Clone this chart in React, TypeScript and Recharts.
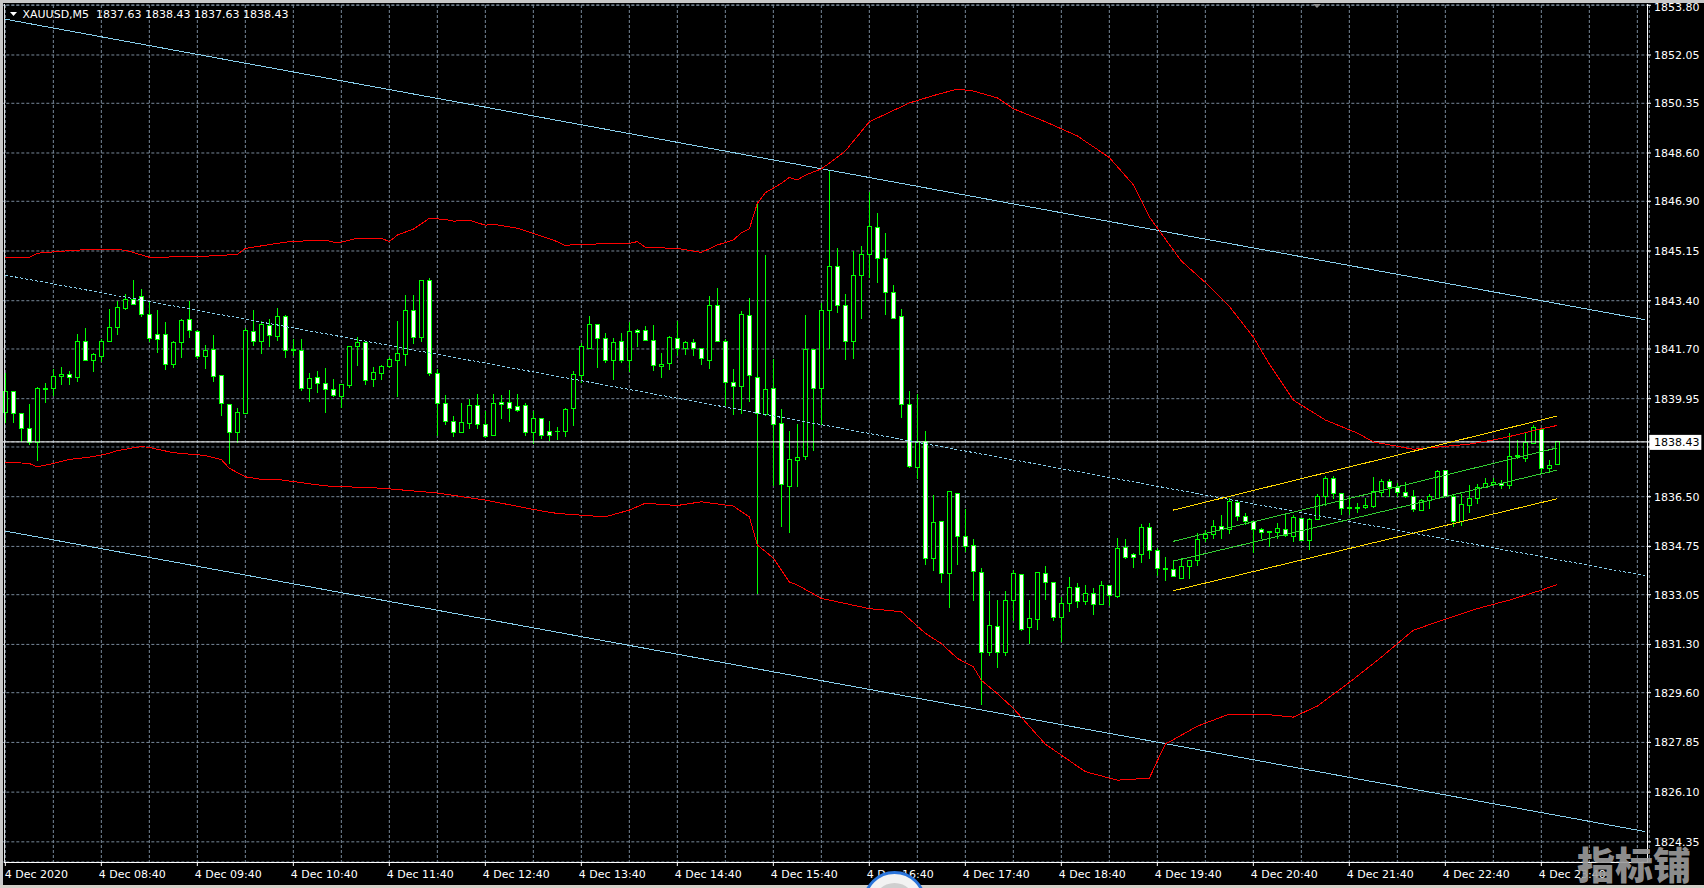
import React from 'react';
import { ComposedChart, Bar, Line, XAxis, YAxis, CartesianGrid, ReferenceLine } from 'recharts';

const symbolTitle = 'XAUUSD,M5';
const lastBarOHLC = ['1837.63', '1838.43', '1837.63', '1838.43'];
const lastPrice = 1838.43;
const hiddenTick = 1838.25;

const opens = [
  1839.46, 1840.20, 1839.42, 1838.89, 1838.40, 1840.29, 1840.30, 1840.72, 1840.80, 1840.68,
  1841.96, 1841.31, 1841.45, 1841.95, 1842.44, 1843.14, 1843.44, 1843.54, 1842.91, 1842.20,
  1842.20, 1841.17, 1841.92, 1842.73, 1842.31, 1841.43, 1841.68, 1840.76, 1839.76, 1838.75,
  1839.43, 1842.31, 1841.95, 1842.52, 1842.13, 1842.84, 1841.68, 1841.65, 1840.30, 1840.69,
  1840.48, 1840.27, 1840.04, 1840.43, 1841.78, 1841.92, 1840.61, 1840.85, 1841.07, 1841.31,
  1841.52, 1843.05, 1842.09, 1844.11, 1840.83, 1839.77, 1839.14, 1838.75, 1839.07, 1839.70,
  1839.03, 1838.64, 1839.81, 1839.81, 1839.67, 1839.72, 1838.75, 1839.25, 1838.79, 1838.78,
  1838.79, 1839.60, 1840.78, 1841.73, 1842.56, 1842.06, 1841.31, 1841.95, 1841.29, 1842.34,
  1842.34, 1841.99, 1841.08, 1841.18, 1842.06, 1841.71, 1841.92, 1841.71, 1841.31, 1843.22,
  1841.98, 1840.51, 1840.37, 1842.87, 1840.71, 1839.40, 1840.30, 1839.07, 1836.87, 1837.79,
  1837.91, 1841.69, 1840.30, 1843.07, 1844.60, 1843.22, 1841.95, 1844.27, 1845.02, 1845.97,
  1844.88, 1843.68, 1842.84, 1839.76, 1837.52, 1838.44, 1834.34, 1835.62, 1833.79, 1836.61,
  1835.09, 1834.77, 1833.82, 1831.03, 1831.92, 1831.03, 1832.86, 1833.75, 1831.88, 1832.16,
  1833.79, 1833.47, 1832.26, 1832.73, 1833.30, 1832.80, 1833.08, 1832.70, 1833.37, 1832.98,
  1834.70, 1834.46, 1834.46, 1835.41, 1834.60, 1833.97, 1833.93, 1833.61, 1834.03, 1834.25,
  1835.02, 1835.16, 1835.44, 1835.35, 1836.29, 1835.80, 1835.62, 1835.34, 1835.23, 1835.23,
  1835.33, 1835.11, 1835.75, 1834.95, 1835.68, 1836.50, 1837.15, 1836.61, 1836.09, 1836.09,
  1836.11, 1836.14, 1836.64, 1837.03, 1836.82, 1836.64, 1836.50, 1836.03, 1836.36, 1836.43,
  1837.42, 1836.50, 1835.64, 1836.19, 1836.45, 1836.82, 1836.92, 1836.97, 1836.88, 1837.91,
  1837.86, 1838.38, 1838.85, 1837.49, 1837.63,
];

const highs = [
  1840.84, 1840.22, 1839.46, 1839.75, 1840.37, 1840.51, 1840.98, 1841.05, 1840.91, 1842.22,
  1842.43, 1841.57, 1842.04, 1843.10, 1843.40, 1843.62, 1844.12, 1843.80, 1843.39, 1843.07,
  1842.65, 1841.98, 1842.74, 1843.40, 1842.37, 1841.83, 1842.18, 1840.76, 1839.76, 1839.64,
  1842.45, 1843.06, 1842.67, 1842.77, 1843.15, 1842.88, 1842.06, 1842.06, 1840.84, 1840.91,
  1841.02, 1840.65, 1840.44, 1841.78, 1842.13, 1841.92, 1841.08, 1841.12, 1841.43, 1842.67,
  1843.59, 1843.59, 1844.11, 1844.21, 1841.01, 1840.07, 1839.33, 1839.79, 1839.94, 1840.10,
  1839.50, 1840.10, 1840.07, 1840.24, 1840.10, 1839.81, 1839.50, 1839.28, 1839.15, 1838.94,
  1839.61, 1840.91, 1841.92, 1842.86, 1842.56, 1842.25, 1842.10, 1842.25, 1842.66, 1842.42,
  1842.51, 1842.53, 1841.55, 1842.16, 1842.70, 1841.99, 1842.04, 1841.71, 1843.57, 1843.84,
  1842.04, 1840.98, 1843.05, 1843.48, 1846.79, 1845.00, 1841.36, 1839.57, 1838.81, 1839.05,
  1842.88, 1841.69, 1843.31, 1848.00, 1845.24, 1843.62, 1845.15, 1845.33, 1847.23, 1846.48,
  1845.77, 1843.94, 1843.10, 1840.21, 1840.11, 1838.80, 1836.55, 1835.62, 1836.68, 1836.61,
  1836.08, 1835.00, 1834.00, 1833.17, 1832.88, 1833.17, 1833.91, 1833.75, 1832.88, 1833.82,
  1834.05, 1833.47, 1832.98, 1833.69, 1833.47, 1833.38, 1833.30, 1833.54, 1833.37, 1835.06,
  1835.00, 1834.53, 1835.55, 1835.56, 1834.69, 1834.39, 1834.26, 1834.35, 1834.25, 1835.23,
  1835.33, 1835.68, 1835.84, 1836.46, 1836.35, 1835.94, 1835.62, 1835.41, 1835.29, 1835.58,
  1835.84, 1835.84, 1835.76, 1835.76, 1836.58, 1837.23, 1837.23, 1836.61, 1836.52, 1836.29,
  1836.46, 1837.20, 1837.11, 1837.11, 1836.99, 1837.02, 1836.73, 1836.41, 1836.58, 1837.44,
  1837.42, 1836.58, 1836.58, 1836.90, 1836.93, 1837.17, 1837.17, 1837.09, 1838.75, 1838.48,
  1838.75, 1839.01, 1838.93, 1837.78, 1838.43,
];

const lows = [
  1839.11, 1839.11, 1838.42, 1838.33, 1837.76, 1839.79, 1840.04, 1840.45, 1840.45, 1840.54,
  1841.28, 1840.89, 1841.24, 1841.95, 1842.18, 1843.07, 1843.25, 1842.84, 1841.95, 1841.55,
  1840.96, 1841.03, 1841.38, 1842.09, 1841.36, 1840.98, 1840.54, 1839.34, 1837.64, 1838.40,
  1839.40, 1841.80, 1841.51, 1841.78, 1841.98, 1841.37, 1841.45, 1840.22, 1839.83, 1840.14,
  1839.45, 1840.02, 1839.63, 1840.33, 1841.10, 1840.43, 1840.36, 1840.61, 1841.03, 1840.01,
  1841.10, 1841.87, 1841.95, 1840.75, 1838.64, 1839.02, 1838.60, 1838.75, 1838.87, 1838.87,
  1838.57, 1838.64, 1839.22, 1839.13, 1839.48, 1838.64, 1838.37, 1838.52, 1838.46, 1838.49,
  1838.60, 1838.99, 1840.51, 1841.71, 1841.03, 1841.22, 1840.61, 1841.22, 1840.89, 1841.77,
  1841.98, 1840.92, 1840.68, 1840.95, 1841.45, 1841.49, 1841.45, 1841.12, 1840.98, 1841.95,
  1839.69, 1839.36, 1839.40, 1839.83, 1833.06, 1839.34, 1836.87, 1835.43, 1835.23, 1836.84,
  1837.79, 1838.11, 1839.01, 1841.71, 1842.96, 1841.31, 1841.36, 1842.74, 1844.19, 1844.03,
  1842.90, 1842.78, 1839.27, 1837.52, 1837.11, 1834.08, 1833.88, 1833.45, 1832.57, 1834.08,
  1834.55, 1832.83, 1829.15, 1830.89, 1830.46, 1830.89, 1832.13, 1831.76, 1831.33, 1831.80,
  1832.86, 1832.12, 1831.38, 1832.44, 1832.58, 1832.69, 1832.33, 1832.70, 1832.65, 1832.94,
  1834.31, 1833.99, 1834.15, 1834.32, 1833.71, 1833.53, 1833.68, 1833.61, 1833.61, 1834.06,
  1834.90, 1835.02, 1835.00, 1835.20, 1835.64, 1835.49, 1834.53, 1835.00, 1834.74, 1835.00,
  1835.09, 1834.90, 1834.95, 1834.64, 1835.68, 1836.19, 1836.41, 1835.85, 1835.85, 1835.94,
  1836.08, 1836.11, 1836.50, 1836.50, 1836.50, 1836.46, 1835.96, 1836.03, 1836.05, 1836.43,
  1836.52, 1835.43, 1835.47, 1835.91, 1836.23, 1836.82, 1836.88, 1836.76, 1836.76, 1837.84,
  1837.72, 1838.34, 1837.32, 1837.34, 1837.63,
];

const closes = [
  1840.20, 1839.42, 1838.89, 1838.40, 1840.30, 1840.31, 1840.72, 1840.80, 1840.69, 1841.96,
  1841.31, 1841.50, 1841.96, 1842.45, 1843.15, 1843.45, 1843.25, 1842.90, 1842.06, 1842.05,
  1841.15, 1841.92, 1842.71, 1842.34, 1841.43, 1841.65, 1840.72, 1839.79, 1838.75, 1839.46,
  1842.34, 1841.96, 1842.56, 1842.17, 1842.84, 1841.64, 1841.65, 1840.30, 1840.65, 1840.48,
  1840.26, 1840.06, 1840.44, 1841.78, 1841.92, 1840.58, 1840.87, 1841.08, 1841.34, 1841.54,
  1843.05, 1842.09, 1844.11, 1840.83, 1839.77, 1839.13, 1838.75, 1839.10, 1839.70, 1839.03,
  1838.61, 1839.79, 1839.73, 1839.62, 1839.55, 1838.75, 1839.25, 1838.67, 1838.67, 1838.80,
  1839.56, 1840.80, 1841.78, 1842.56, 1842.06, 1841.31, 1841.92, 1841.29, 1842.31, 1842.27,
  1842.00, 1841.12, 1841.17, 1842.10, 1841.71, 1841.92, 1841.71, 1841.36, 1843.22, 1841.98,
  1840.51, 1840.37, 1842.91, 1840.76, 1839.42, 1840.27, 1839.03, 1836.92, 1837.80, 1837.87,
  1841.69, 1840.30, 1843.05, 1844.60, 1843.22, 1841.95, 1844.28, 1845.02, 1846.01, 1844.88,
  1843.68, 1842.78, 1839.74, 1837.56, 1838.45, 1834.32, 1835.60, 1833.79, 1836.68, 1835.09,
  1834.76, 1833.85, 1831.03, 1831.97, 1831.03, 1832.84, 1833.79, 1831.84, 1832.20, 1833.82,
  1833.47, 1832.23, 1832.73, 1833.30, 1832.80, 1833.08, 1832.70, 1833.37, 1833.01, 1834.67,
  1834.35, 1834.35, 1835.41, 1834.60, 1833.96, 1833.94, 1833.68, 1834.03, 1834.25, 1834.99,
  1835.17, 1835.44, 1835.35, 1836.34, 1835.80, 1835.62, 1835.35, 1835.23, 1835.28, 1835.37,
  1835.14, 1835.76, 1834.95, 1835.70, 1836.52, 1837.15, 1836.63, 1836.08, 1836.11, 1836.11,
  1836.18, 1836.70, 1837.03, 1836.82, 1836.64, 1836.52, 1836.04, 1836.35, 1836.50, 1837.39,
  1836.52, 1835.64, 1836.22, 1836.43, 1836.82, 1836.97, 1836.99, 1836.88, 1837.93, 1837.96,
  1838.40, 1838.93, 1837.50, 1837.60, 1838.43,
];

// upper / lower envelope (red), sampled as [bar index, price]
const upperBand = [
  [0, 1844.92], [3, 1844.93], [4, 1845.07], [6, 1845.12], [9, 1845.18], [12, 1845.22], [15, 1845.18],
  [18, 1844.93], [24, 1844.95], [29, 1845.03], [30, 1845.24], [32, 1845.33], [35, 1845.46], [36, 1845.49],
  [40, 1845.53], [41, 1845.46], [42, 1845.46], [44, 1845.60], [47, 1845.60], [48, 1845.48], [49, 1845.71],
  [51, 1845.92], [53, 1846.30], [55, 1846.26], [56, 1846.20], [58, 1846.23], [60, 1846.06], [61, 1846.09],
  [64, 1845.95], [66, 1845.77], [69, 1845.48], [70, 1845.33], [71, 1845.38], [78, 1845.42], [79, 1845.48],
  [80, 1845.28], [84, 1845.24], [87, 1845.10], [89, 1845.36], [91, 1845.54], [92, 1845.79], [93, 1845.93],
  [94, 1846.83], [95, 1847.20], [97, 1847.53], [98, 1847.74], [99, 1847.65], [100, 1847.82], [102, 1848.04],
  [104, 1848.45], [105, 1848.67], [108, 1849.70], [113, 1850.36], [116, 1850.62], [119, 1850.85], [121, 1850.78],
  [124, 1850.54], [126, 1850.16], [130, 1849.70], [134, 1849.20], [138, 1848.44], [141, 1847.48], [143, 1846.35],
  [145, 1845.57], [147, 1844.80], [150, 1844.04], [153, 1843.20], [156, 1842.12], [158, 1841.17], [161, 1839.90],
  [165, 1839.20], [169, 1838.74], [171, 1838.43], [176, 1838.17], [183, 1838.35], [187, 1838.55], [192, 1838.89],
  [194, 1839.01],
];

const lowerBand = [
  [0, 1837.72], [3, 1837.67], [4, 1837.55], [6, 1837.67], [8, 1837.81], [11, 1837.91], [13, 1838.03],
  [14, 1838.12], [16, 1838.22], [17, 1838.26], [18, 1838.24], [19, 1838.17], [21, 1838.05], [25, 1837.95],
  [27, 1837.81], [28, 1837.50], [30, 1837.20], [32, 1837.11], [34, 1837.11], [40, 1836.88], [47, 1836.80],
  [54, 1836.63], [60, 1836.38], [67, 1836.00], [69, 1835.91], [75, 1835.79], [78, 1836.03], [80, 1836.27],
  [84, 1836.19], [87, 1836.32], [91, 1836.17], [93, 1835.79], [94, 1834.80], [96, 1834.34], [98, 1833.50],
  [99, 1833.39], [102, 1832.92], [108, 1832.56], [112, 1832.45], [115, 1831.69], [117, 1831.33], [119, 1830.81],
  [121, 1830.51], [122, 1830.04], [124, 1829.57], [126, 1829.05], [130, 1827.79], [135, 1826.82], [139, 1826.52],
  [143, 1826.59], [144, 1827.20], [145, 1827.79], [149, 1828.42], [153, 1828.85], [157, 1828.85], [161, 1828.74],
  [164, 1829.13], [168, 1829.96], [172, 1830.85], [176, 1831.80], [180, 1832.19], [184, 1832.56], [188, 1832.86],
  [192, 1833.21], [194, 1833.41],
];

// regression channel (cyan), endpoints at bar indices
const cyanIdx = [0, 205];
const cyanTop = [1853.31, 1842.73];
const cyanMid = [1844.30, 1833.72];
const cyanBot = [1835.29, 1824.71];

// short std-dev channel (yellow outer, green inner)
const stdIdx = [146, 194];
const yellowTop = [1836.03, 1839.34];
const yellowBot = [1833.19, 1836.43];
const greenTop = [1834.93, 1838.22];
const greenBot = [1834.23, 1837.44];

const yTicks = [
  1853.8, 1852.05, 1850.35, 1848.6, 1846.9, 1845.15, 1843.4, 1841.7, 1839.95,
  hiddenTick, 1836.5, 1834.75, 1833.05, 1831.3, 1829.6, 1827.85, 1826.1, 1824.35, lastPrice,
];
const yDomain = [1823.64, 1853.81];

const hourLabels = [
  '4 Dec 2020', '4 Dec 08:40', '4 Dec 09:40', '4 Dec 10:40', '4 Dec 11:40', '4 Dec 12:40',
  '4 Dec 13:40', '4 Dec 14:40', '4 Dec 15:40', '4 Dec 16:40', '4 Dec 17:40', '4 Dec 18:40',
  '4 Dec 19:40', '4 Dec 20:40', '4 Dec 21:40', '4 Dec 22:40', '4 Dec 23:40',
];
const barsPerLabel = 12;
const barsPerGrid = 6;
const totalSlots = 206;

const rows: any[] = [];
for (let i = 0; i < totalSlots; i++) {
  rows.push({
    i,
    o: opens[i] ?? null,
    h: highs[i] ?? null,
    l: lows[i] ?? null,
    c: closes[i] ?? null,
    ru: null, rl: null, ct: null, cm: null, cb: null, yt: null, yb: null, gt: null, gb: null,
  });
}
upperBand.forEach(([k, v]) => { rows[k].ru = v; });
lowerBand.forEach(([k, v]) => { rows[k].rl = v; });
cyanIdx.forEach((k, j) => { rows[k].ct = cyanTop[j]; rows[k].cm = cyanMid[j]; rows[k].cb = cyanBot[j]; });
stdIdx.forEach((k, j) => {
  rows[k].yt = yellowTop[j]; rows[k].yb = yellowBot[j]; rows[k].gt = greenTop[j]; rows[k].gb = greenBot[j];
});

const gridTicks: number[] = [];
for (let i = 0; i < totalSlots; i += barsPerGrid) gridTicks.push(i);

const FONT = 'DejaVu Sans';
const LIME = '#00ff00';

const Candle = (props: any) => {
  const { x, y, width, height, payload } = props;
  if (!payload || payload.h == null || !isFinite(x) || !isFinite(y) || !isFinite(height)) return null;
  const { o, h, l, c } = payload;
  const span = h - l;
  const k = span > 0 ? height / span : 0;
  const py = (v: number) => y + (h - v) * k;
  const cx = Math.round(x + width / 2 - 0.5) + 0.5;
  const top = py(Math.max(o, c));
  const bot = py(Math.min(o, c));
  const bull = c >= o;
  return (
    <g shapeRendering="crispEdges">
      <line x1={cx} x2={cx} y1={y} y2={y + height} stroke={LIME} strokeWidth={1} />
      <rect x={cx - 2} y={top} width={4} height={Math.max(bot - top, 0.6)} fill={bull ? '#000' : '#fff'} stroke={LIME} strokeWidth={1} />
    </g>
  );
};

const XTick = (p: any) => {
  const v = p.payload.value;
  if (v % barsPerLabel !== 0) return null;
  const label = hourLabels[v / barsPerLabel];
  if (!label) return null;
  const x = p.x;
  const tx = v === 0 ? x - 0.5 : x - 2.5;
  return (
    <g>
      <line x1={x} x2={x} y1={p.y} y2={p.y + 4} stroke="#fff" strokeWidth={1} />
      <text x={tx} y={p.y + 16} fill="#fff" fontFamily={FONT} fontSize={11}>{label}</text>
    </g>
  );
};

const YTick = (p: any) => {
  const v = p.payload.value;
  const x = p.x;
  const y = p.y;
  if (v === lastPrice) {
    return (
      <g>
        <rect x={x} y={y - 7} width={52} height={15} fill="#fff" />
        <text x={x + 4.7} y={y + 4.5} fill="#000" fontFamily={FONT} fontSize={11}>{v.toFixed(2)}</text>
      </g>
    );
  }
  return (
    <g>
      <line x1={x - 2.3} x2={x + 1.7} y1={y} y2={y} stroke="#fff" strokeWidth={1} />
      {v === hiddenTick ? null : (
        <text x={x + 4.7} y={Math.max(y + 4, 11)} fill="#fff" fontFamily={FONT} fontSize={11}>{v.toFixed(2)}</text>
      )}
    </g>
  );
};

const lineCommon = {
  strokeWidth: 1,
  dot: false,
  activeDot: false,
  connectNulls: true,
  isAnimationActive: false,
  shapeRendering: 'crispEdges',
} as any;

export default function App() {
  return (
    <div style={{ position: 'absolute', left: 0, top: 0, width: 1704, height: 888, background: '#000', overflow: 'hidden' }}>
      <ComposedChart
        width={1704}
        height={888}
        data={rows}
        margin={{ top: 5, right: 0, bottom: 0, left: 1.33 }}
        style={{ background: '#000' }}
      >
        <CartesianGrid stroke="#778899" strokeDasharray="3 2" />
        <XAxis
          dataKey="i"
          type="category"
          ticks={gridTicks}
          interval={0}
          height={26}
          axisLine={false}
          tickLine={false}
          tickSize={0}
          tickMargin={0}
          tick={<XTick />}
        />
        <YAxis
          orientation="right"
          type="number"
          domain={yDomain}
          allowDataOverflow
          ticks={yTicks}
          interval={0}
          width={54.67}
          axisLine={false}
          tickLine={false}
          tickSize={0}
          tickMargin={0}
          tick={<YTick />}
        />
        <Bar dataKey={(d: any) => (d.h == null ? null : [d.l, d.h])} barSize={5} shape={(p: any) => <Candle {...p} />} isAnimationActive={false} />
        <ReferenceLine y={lastPrice} stroke="#ffffff" strokeWidth={1} />
        <Line dataKey="ct" stroke="#87ceeb" {...lineCommon} />
        <Line dataKey="cm" stroke="#87ceeb" strokeDasharray="3 2" {...lineCommon} />
        <Line dataKey="cb" stroke="#87ceeb" {...lineCommon} />
        <Line dataKey="ru" stroke="#ff0000" {...lineCommon} />
        <Line dataKey="rl" stroke="#ff0000" {...lineCommon} />
        <Line dataKey="yt" stroke="#ffd700" {...lineCommon} />
        <Line dataKey="yb" stroke="#ffd700" {...lineCommon} />
        <Line dataKey="gt" stroke="#32cd32" {...lineCommon} />
        <Line dataKey="gb" stroke="#32cd32" {...lineCommon} />
      </ComposedChart>
      <svg width={1704} height={888} style={{ position: 'absolute', left: 0, top: 0, pointerEvents: 'none' }}>
        <rect x={0} y={0} width={1704} height={3} fill="#c8c8c8" />
        <rect x={0} y={0} width={3} height={888} fill="#c8c8c8" />
        <rect x={0} y={885} width={1704} height={3} fill="#d4d0c8" />
        <line x1={4.5} x2={4.5} y1={4} y2={862.5} stroke="#e0e0e0" strokeWidth={1} />
        <line x1={1647.5} x2={1647.5} y1={4} y2={862.5} stroke="#ffffff" strokeWidth={1} />
        <line x1={4} x2={1648} y1={862.5} y2={862.5} stroke="#ffffff" strokeWidth={1} />
        <polygon points="10,12 17,12 13.5,16" fill="#ffffff" />
        <text x={22.5} y={18} fill="#ffffff" fontFamily={FONT} fontSize={11} style={{ whiteSpace: 'pre' }}>
          {symbolTitle + '  ' + lastBarOHLC.join(' ')}
        </text>
        <polygon points="1313,4 1321,4 1317,8" fill="#8a8a8a" />
        <circle cx={894.5} cy={902.5} r={30} fill="#f2f2f2" stroke="#2a74da" strokeWidth={3} />
        <circle cx={894.5} cy={904} r={21} fill="#cfcfcf" />
        <text x={1577} y={879} fill="#9b9b9b" fillOpacity={0.92} fontFamily="Noto Sans CJK SC" fontWeight={900} fontSize={38}>指标铺</text>
      </svg>
    </div>
  );
}
